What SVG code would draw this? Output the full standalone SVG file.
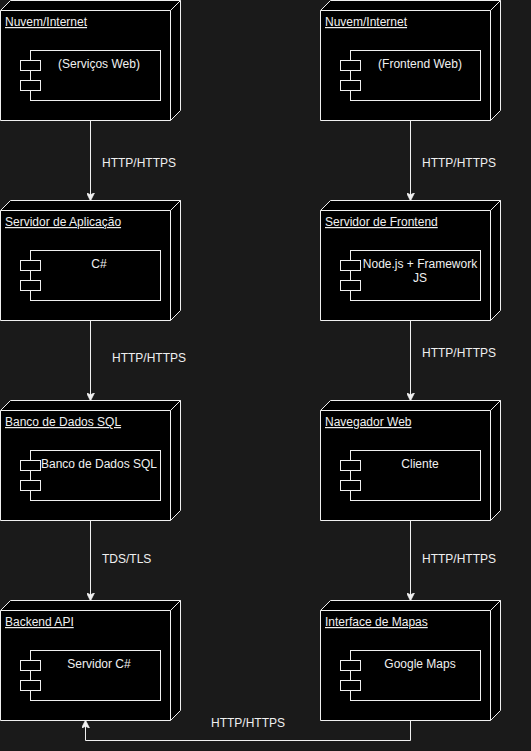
<svg xmlns="http://www.w3.org/2000/svg" width="531" height="751" viewBox="0 0 531 751">
<style>
.bg{fill:#1a1a1a}
.nf{fill:#000;stroke:#f0f0f0;stroke-width:1}
.ln{fill:none;stroke:#f0f0f0;stroke-width:1}
.t{font-family:"Liberation Sans",Arial,sans-serif;font-size:12px;fill:#f0f0f0}
.u{text-decoration:underline}
.m{text-anchor:middle}
</style>
<defs>
<marker id="arr" viewBox="0 0 10 10" refX="9" refY="5" markerWidth="8" markerHeight="8" markerUnits="userSpaceOnUse" orient="auto">
<path d="M0,0 L10,5 L0,10 L2.5,5 Z" fill="#f0f0f0" stroke="#f0f0f0" stroke-width="1"/>
</marker>
<g id="shape">
<path class="nf" d="M0,10 L10,0 L180,0 L180,110 L170,120 L0,120 Z"/>
<path class="ln" d="M0,10 L170,10 L180,0 M170,10 L170,120"/>
<rect class="nf" x="30" y="50" width="130" height="50"/>
<rect class="nf" x="20" y="60" width="20" height="10"/>
<rect class="nf" x="20" y="80" width="20" height="10"/>
</g>
</defs>
<rect class="bg" x="0" y="0" width="531" height="751"/>
<g id="connectors">
<path class="ln" d="M90.5,120.5 L90.5,200" marker-end="url(#arr)"/>
<path class="ln" d="M90.5,320.5 L90.5,400" marker-end="url(#arr)"/>
<path class="ln" d="M90.5,520.5 L90.5,600" marker-end="url(#arr)"/>
<path class="ln" d="M410.5,120.5 L410.5,200" marker-end="url(#arr)"/>
<path class="ln" d="M410.5,320.5 L410.5,400" marker-end="url(#arr)"/>
<path class="ln" d="M410.5,520.5 L410.5,600" marker-end="url(#arr)"/>
<path class="ln" d="M410.5,720.5 L410.5,740.5 L85.5,740.5 L85.5,721" marker-end="url(#arr)"/>
<text class="t" x="102" y="167">HTTP/HTTPS</text>
<text class="t" x="112" y="362">HTTP/HTTPS</text>
<text class="t" x="102" y="563">TDS/TLS</text>
<text class="t" x="422" y="167">HTTP/HTTPS</text>
<text class="t" x="422" y="357">HTTP/HTTPS</text>
<text class="t" x="422" y="563">HTTP/HTTPS</text>
<text class="t" x="211" y="727">HTTP/HTTPS</text>
</g>
<g id="node-nuvem-servicos">
<use href="#shape" x="0.5" y="0.5"/>
<text class="t u" x="5" y="26">Nuvem/Internet</text>
<text class="t m" x="99" y="68">(Serviços Web)</text>
</g>
<g id="node-servidor-aplicacao">
<use href="#shape" x="0.5" y="200.5"/>
<text class="t u" x="5" y="226">Servidor de Aplicação</text>
<text class="t m" x="99" y="268">C#</text>
</g>
<g id="node-banco-dados">
<use href="#shape" x="0.5" y="400.5"/>
<text class="t u" x="5" y="426">Banco de Dados SQL</text>
<text class="t m" x="99" y="468">Banco de Dados SQL</text>
</g>
<g id="node-backend-api">
<use href="#shape" x="0.5" y="600.5"/>
<text class="t u" x="5" y="626">Backend API</text>
<text class="t m" x="99" y="668">Servidor C#</text>
</g>
<g id="node-nuvem-frontend">
<use href="#shape" x="320.5" y="0.5"/>
<text class="t u" x="325" y="26">Nuvem/Internet</text>
<text class="t m" x="420" y="68">(Frontend Web)</text>
</g>
<g id="node-servidor-frontend">
<use href="#shape" x="320.5" y="200.5"/>
<text class="t u" x="325" y="226">Servidor de Frontend</text>
<text class="t m" x="420" y="268">Node.js + Framework</text>
<text class="t m" x="420" y="282">JS</text>
</g>
<g id="node-navegador">
<use href="#shape" x="320.5" y="400.5"/>
<text class="t u" x="325" y="426">Navegador Web</text>
<text class="t m" x="420" y="468">Cliente</text>
</g>
<g id="node-interface-mapas">
<use href="#shape" x="320.5" y="600.5"/>
<text class="t u" x="325" y="626">Interface de Mapas</text>
<text class="t m" x="420" y="668">Google Maps</text>
</g>
</svg>
